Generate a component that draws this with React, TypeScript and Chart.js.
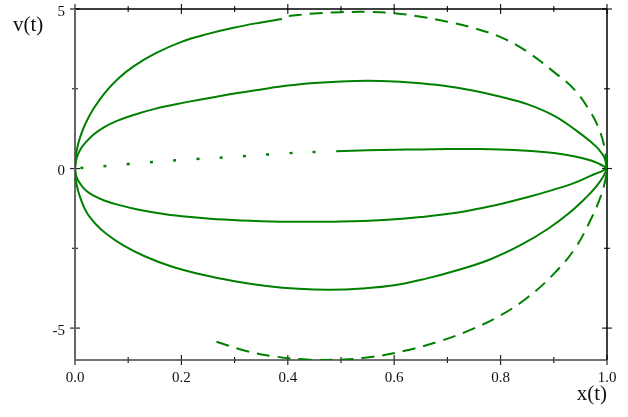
import React, { useEffect, useRef } from "react";
import { Chart, registerables } from "chart.js";

Chart.register(...registerables);

// Axis ticks
const X_TICKS = [0, 0.1, 0.2, 0.3, 0.4, 0.5, 0.6, 0.7, 0.8, 0.9, 1.0];
const Y_TICKS = [-5, -2.5, 0, 2.5, 5];
const X_TITLE = "x(t)";
const Y_TITLE = "v(t)";

// Outer upper trajectory (solid part)
const outerUpX = [0, 0.003, 0.01, 0.02, 0.035, 0.055, 0.08, 0.11, 0.15, 0.2, 0.25, 0.3, 0.35, 0.389];
const outerUpV = [0, 0.55, 1.0, 1.42, 1.88, 2.35, 2.8, 3.2, 3.6, 3.97, 4.22, 4.42, 4.58, 4.69];

// Outer upper trajectory (dashed part)
const outerUpDashX = [0.402, 0.45, 0.5, 0.55, 0.6, 0.65, 0.7, 0.75, 0.8, 0.85, 0.9, 0.94, 0.97, 0.985, 0.995, 1.0];
const outerUpDashV = [4.78, 4.86, 4.9, 4.91, 4.87, 4.76, 4.6, 4.4, 4.12, 3.66, 3.03, 2.45, 1.74, 1.24, 0.68, 0];

// Middle upper trajectory
const midUpX = [0, 0.003, 0.01, 0.02, 0.035, 0.055, 0.08, 0.11, 0.15, 0.2, 0.25, 0.3, 0.35, 0.4, 0.45, 0.5, 0.55, 0.6, 0.65, 0.7, 0.75, 0.8, 0.85, 0.9, 0.94, 0.97, 0.985, 0.995, 1.0];
const midUpV = [0, 0.32, 0.6, 0.82, 1.07, 1.3, 1.5, 1.68, 1.87, 2.05, 2.2, 2.35, 2.48, 2.6, 2.68, 2.73, 2.75, 2.73, 2.67, 2.58, 2.44, 2.25, 2.02, 1.66, 1.22, 0.83, 0.59, 0.34, 0];

// Inner upper trajectory (dotted part)
const innerDotX = [0, 0.1, 0.2, 0.3, 0.4, 0.452];
const innerDotV = [0, 0.14, 0.27, 0.37, 0.48, 0.52];

// Inner upper trajectory (solid part)
const innerUpX = [0.491, 0.55, 0.6, 0.65, 0.7, 0.75, 0.8, 0.85, 0.9, 0.94, 0.97, 0.985, 0.995, 1.0];
const innerUpV = [0.54, 0.57, 0.59, 0.6, 0.61, 0.61, 0.6, 0.56, 0.49, 0.38, 0.25, 0.15, 0.06, 0];

// Inner lower trajectory
const innerLowX = [0, 0.003, 0.01, 0.02, 0.035, 0.055, 0.08, 0.12, 0.17, 0.22, 0.28, 0.35, 0.42, 0.5, 0.58, 0.65, 0.72, 0.79, 0.85, 0.9, 0.94, 0.97, 0.985, 0.995, 1.0];
const innerLowV = [0, -0.27, -0.48, -0.68, -0.85, -1.0, -1.13, -1.29, -1.43, -1.52, -1.6, -1.65, -1.67, -1.66, -1.61, -1.52, -1.38, -1.15, -0.9, -0.66, -0.44, -0.22, -0.12, -0.04, 0];

// Outer lower trajectory
const outerLowX = [0, 0.003, 0.01, 0.022, 0.04, 0.06, 0.09, 0.13, 0.18, 0.24, 0.3, 0.36, 0.42, 0.48, 0.54, 0.6, 0.66, 0.72, 0.78, 0.84, 0.89, 0.93, 0.96, 0.98, 0.993, 1.0];
const outerLowV = [0, -0.5, -0.92, -1.38, -1.76, -2.06, -2.4, -2.74, -3.06, -3.33, -3.53, -3.68, -3.77, -3.8, -3.76, -3.66, -3.45, -3.18, -2.85, -2.38, -1.88, -1.38, -0.92, -0.56, -0.25, 0];

// Lowest trajectory (dashed)
const lowDashX = [0.266, 0.32, 0.38, 0.44, 0.5, 0.56, 0.62, 0.68, 0.74, 0.8, 0.85, 0.9, 0.94, 0.97, 0.988, 0.997, 1.0];
const lowDashV = [-5.43, -5.71, -5.9, -5.99, -5.99, -5.9, -5.71, -5.44, -5.08, -4.6, -4.05, -3.3, -2.5, -1.58, -0.88, -0.35, 0];

const GREEN = "#008000";
const FONT = "'Liberation Serif', 'DejaVu Serif', serif";

const pts = (xs: number[], vs: number[]) => xs.map((x, i) => ({ x, y: vs[i] }));

const framePlugin = {
  id: "frame",
  beforeDatasetsDraw(chart: any) {
    const { ctx, chartArea, scales } = chart;
    const { left, right, top, bottom } = chartArea;
    const xs = scales.x;
    const ys = scales.y;
    ctx.save();
    const line = (x1: number, y1: number, x2: number, y2: number) => {
      ctx.beginPath();
      ctx.moveTo(x1, y1);
      ctx.lineTo(x2, y2);
      ctx.stroke();
    };
    ctx.strokeStyle = "#222";
    ctx.lineWidth = 1.2;
    X_TICKS.forEach((v) => {
      const px = xs.getPixelForValue(v);
      const major = Math.round(v * 10) % 2 === 0;
      const L = major ? 5 : 3;
      line(px, bottom - L, px, bottom + L);
      line(px, top - L, px, top + L);
    });
    Y_TICKS.forEach((v) => {
      const py = ys.getPixelForValue(v);
      const major = v % 5 === 0;
      const L = major ? 5 : 3;
      line(left - L, py, left + L, py);
      line(right - L, py, right + L, py);
    });
    // frame
    ctx.lineWidth = 1.5;
    ctx.strokeStyle = "#000";
    line(left, top, right, top);
    line(right, top, right, bottom);
    ctx.strokeStyle = "#444";
    line(left, bottom, right, bottom);
    ctx.lineWidth = 2;
    ctx.strokeStyle = "#666";
    line(left, top, left, bottom);
    ctx.restore();
  },
  afterDraw(chart: any) {
    const { ctx, chartArea } = chart;
    ctx.save();
    ctx.fillStyle = "#111";
    ctx.font = `21px ${FONT}`;
    ctx.textBaseline = "middle";
    ctx.textAlign = "left";
    ctx.fillText(Y_TITLE, 13, 25);
    ctx.textAlign = "right";
    ctx.fillText(X_TITLE, chartArea.right, 394);
    ctx.restore();
  },
};

export default function App() {
  const ref = useRef<HTMLCanvasElement | null>(null);
  useEffect(() => {
    if (!ref.current) return;
    const base = {
      borderColor: GREEN,
      backgroundColor: GREEN,
      borderWidth: 2,
      pointRadius: 0,
      fill: false,
      tension: 0.4,
    };
    const chart = new Chart(ref.current, {
      type: "line",
      data: {
        datasets: [
          { ...base, data: pts(outerUpX, outerUpV) },
          { ...base, data: pts(outerUpDashX, outerUpDashV), borderDash: [13, 8] },
          { ...base, data: pts(midUpX, midUpV) },
          { ...base, data: pts(innerDotX, innerDotV), borderDash: [3, 20.3], borderDashOffset: 18, borderWidth: 2.5 },
          { ...base, data: pts(innerUpX, innerUpV) },
          { ...base, data: pts(innerLowX, innerLowV) },
          { ...base, data: pts(outerLowX, outerLowV) },
          { ...base, data: pts(lowDashX, lowDashV), borderDash: [13, 8] },
        ] as any,
      },
      options: {
        animation: false,
        responsive: false,
        maintainAspectRatio: false,
        layout: { padding: { top: 9, right: 21, left: 0, bottom: 0 } },
        plugins: { legend: { display: false }, tooltip: { enabled: false } },
        scales: {
          x: {
            type: "linear",
            min: 0,
            max: 1,
            afterBuildTicks: (s: any) => {
              s.ticks = X_TICKS.map((value) => ({ value }));
            },
            afterFit: (s: any) => {
              s.height = 57;
              s.paddingLeft = 0;
              s.paddingRight = 0;
            },
            grid: { display: false, drawTicks: false },
            border: { display: false },
            ticks: {
              autoSkip: false,
              maxRotation: 0,
              padding: 9,
              color: "#111",
              font: { family: FONT, size: 15 },
              callback: (v: any) => (Math.round(Number(v) * 10) % 2 === 0 ? Number(v).toFixed(1) : ""),
            },
          },
          y: {
            type: "linear",
            min: -6,
            max: 5,
            afterBuildTicks: (s: any) => {
              s.ticks = Y_TICKS.map((value) => ({ value }));
            },
            afterFit: (s: any) => {
              s.width = 75;
              s.paddingTop = 0;
              s.paddingBottom = 0;
            },
            grid: { display: false, drawTicks: false },
            border: { display: false },
            ticks: {
              autoSkip: false,
              padding: 10,
              labelOffset: 3,
              color: "#111",
              font: { family: FONT, size: 15 },
              callback: (v: any) => (Number(v) % 5 === 0 ? String(v) : ""),
            },
          },
        },
      },
      plugins: [framePlugin],
    });
    return () => chart.destroy();
  }, []);
  return (
    <div style={{ position: "fixed", left: 0, top: 0, width: 628, height: 417, background: "#fff" }}>
      <canvas ref={ref} width={628} height={417} style={{ display: "block" }} />
    </div>
  );
}
